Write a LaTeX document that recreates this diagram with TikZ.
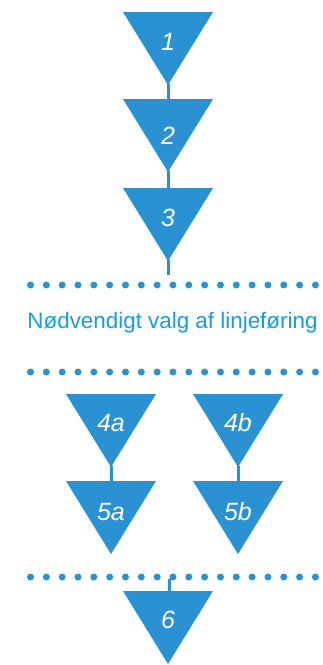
\documentclass[tikz,border=0pt]{standalone}
\usepackage{fontspec}
\setmainfont{Liberation Sans}
\definecolor{tricol}{RGB}{42,145,210}
\definecolor{txtcol}{RGB}{22,156,232}
\begin{document}
\begin{tikzpicture}[x=1pt,y=-1pt,
  lab/.style={text=white,font=\fontsize{25}{25}\selectfont\itshape,inner sep=0pt},
  stem/.style={draw=tricol,line width=3pt},
  dotrow/.style={fill=tricol},
  pics/tri/.style n args={2}{code={
    \fill[tricol] (-45,0) -- (45,0) -- (0,73) -- cycle;
    \coordinate (-top) at (0,0);
    \coordinate (-apex) at (0,72);
    \node[lab] (-lab) at (0,#2) {#1};
  }}]
\useasboundingbox (0,0) rectangle (322,665);
\pic (t1) at (168,12) {tri={1}{30}};
\pic (t2) at (168,99) {tri={2}{37}};
\pic (t3) at (168,188) {tri={3}{30}};
\pic (t4a) at (111,394) {tri={4a}{29}};
\pic (t5a) at (111,481) {tri={5a}{31}};
\pic (t4b) at (238,394) {tri={4b}{29}};
\pic (t5b) at (238,481) {tri={5b}{31}};
\pic (t6) at (168,591) {tri={6}{29}};
\coordinate (end3) at (168,275);
\coordinate (row3) at (169,579);
\draw[stem] (t1-apex) -- (t2-top);
\draw[stem] (t2-apex) -- (t3-top);
\draw[stem] (t3-apex) -- (end3);
\draw[stem] (t4a-apex) -- (t5a-top);
\draw[stem] (t4b-apex) -- (t5b-top);
\draw[stem] (row3) -- ([xshift=1pt]t6-top);
\foreach \yy in {285,372,577}{
  \foreach \i in {0,...,18}{
    \fill[dotrow] (30.5+15.83*\i,\yy) circle (3.5);
  }
}
\node[text=txtcol,font=\fontsize{22.4}{22.4}\selectfont,inner sep=0pt] (txt) at (172.5,323) {Nødvendigt valg af linjeføring};
\end{tikzpicture}
\end{document}
